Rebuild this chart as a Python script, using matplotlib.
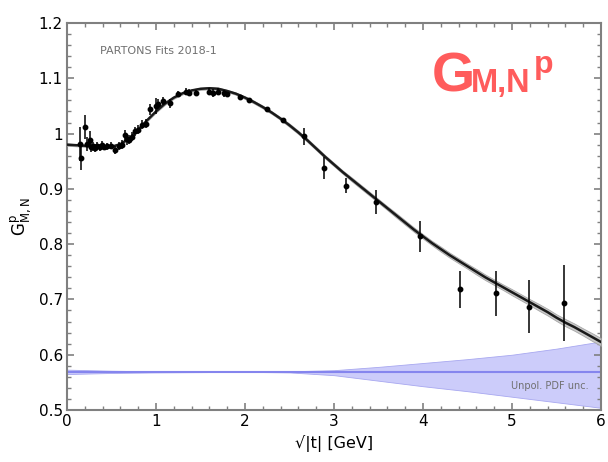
import numpy as np
import matplotlib
matplotlib.use("Agg")
import matplotlib.pyplot as plt
from matplotlib.ticker import MultipleLocator

# ---- data ----
pt_x = [0.15, 0.16, 0.20, 0.23, 0.26, 0.27, 0.29, 0.31, 0.34, 0.37, 0.39, 0.42, 0.45, 0.49,
        0.54, 0.58, 0.62, 0.65, 0.67, 0.70, 0.73, 0.76, 0.80, 0.84, 0.89, 0.93, 1.00, 1.02,
        1.08, 1.16, 1.25, 1.34, 1.37, 1.45, 1.59, 1.64, 1.70, 1.76, 1.80, 1.94, 2.04, 2.25,
        2.43, 2.66, 2.89, 3.14, 3.47, 3.97, 4.42, 4.82, 5.19, 5.58]
pt_y = [0.981, 0.956, 1.012, 0.981, 0.989, 0.976, 0.977, 0.974, 0.978, 0.975, 0.980, 0.976,
        0.977, 0.978, 0.970, 0.977, 0.980, 0.997, 0.990, 0.989, 0.994, 1.004, 1.007, 1.016,
        1.018, 1.044, 1.050, 1.054, 1.059, 1.055, 1.072, 1.076, 1.074, 1.073, 1.076, 1.074,
        1.076, 1.073, 1.071, 1.066, 1.060, 1.044, 1.025, 0.995, 0.938, 0.906, 0.876, 0.814,
        0.718, 0.711, 0.687, 0.693]
pt_err = [0.030, 0.022, 0.022, 0.012, 0.015, 0.010, 0.008, 0.008, 0.007, 0.007, 0.006, 0.006,
          0.006, 0.006, 0.007, 0.007, 0.008, 0.010, 0.010, 0.008, 0.008, 0.008, 0.008, 0.008,
          0.008, 0.010, 0.014, 0.008, 0.007, 0.008, 0.005, 0.006, 0.006, 0.005, 0.006, 0.007,
          0.006, 0.006, 0.005, 0.004, 0.004, 0.004, 0.004, 0.015, 0.020, 0.013, 0.022, 0.028,
          0.034, 0.041, 0.048, 0.069]

fit_x = [round(0.1 * i, 1) for i in range(61)]
fit_y = [0.980, 0.979, 0.978, 0.976, 0.975, 0.976, 0.981, 0.991, 1.007, 1.024,
         1.040, 1.054, 1.065, 1.073, 1.078, 1.081, 1.082, 1.081, 1.077, 1.072,
         1.065, 1.057, 1.048, 1.038, 1.027, 1.015, 1.002, 0.988, 0.973, 0.958,
         0.944, 0.930, 0.917, 0.904, 0.891, 0.878, 0.865, 0.852, 0.839, 0.826,
         0.814, 0.802, 0.791, 0.780, 0.770, 0.760, 0.750, 0.740, 0.731, 0.722,
         0.713, 0.704, 0.695, 0.686, 0.677, 0.667, 0.658, 0.650, 0.641, 0.632,
         0.623]
fit_err = [0.002, 0.002, 0.002, 0.002, 0.002, 0.002, 0.002, 0.002, 0.002, 0.002,
           0.002, 0.002, 0.002, 0.002, 0.002, 0.002, 0.002, 0.002, 0.002, 0.002,
           0.0025, 0.0025, 0.0025, 0.0025, 0.0025, 0.003, 0.003, 0.003, 0.003, 0.003,
           0.003, 0.003, 0.0035, 0.0035, 0.0035, 0.0035, 0.0035, 0.004, 0.004, 0.004,
           0.004, 0.004, 0.0045, 0.0045, 0.0045, 0.0045, 0.005, 0.005, 0.005, 0.005,
           0.0055, 0.0055, 0.0055, 0.006, 0.006, 0.006, 0.0065, 0.0065, 0.0065, 0.007,
           0.007]

pdf_x = [0.0, 0.5, 1.0, 1.5, 2.0, 2.5, 3.0, 3.5, 4.0, 4.5, 5.0, 5.5, 6.0]
pdf_c = [0.569] * 13
pdf_up = [0.573, 0.571, 0.570, 0.5695, 0.569, 0.5700, 0.572, 0.578, 0.585, 0.592, 0.600, 0.611, 0.624]
pdf_lo = [0.565, 0.567, 0.568, 0.5685, 0.569, 0.5680, 0.563, 0.553, 0.543, 0.534, 0.524, 0.514, 0.504]

x_ticks = [0, 1, 2, 3, 4, 5, 6]
x_labels = ['0', '1', '2', '3', '4', '5', '6']
y_ticks = [0.5, 0.6, 0.7, 0.8, 0.9, 1.0, 1.1, 1.2]
y_labels = ['0.5', '0.6', '0.7', '0.8', '0.9', '1', '1.1', '1.2']

# ---- figure ----
fig = plt.figure(figsize=(6.08, 4.62), dpi=100)
ax = fig.add_axes([67 / 608, 1 - 410 / 462, (601 - 67) / 608, (410 - 23) / 462])

fx = np.array(fit_x); fy = np.array(fit_y); fe = np.array(fit_err)
ax.fill_between(pdf_x, pdf_lo, pdf_up, color='#ccccfa', edgecolor='#a8a8f0', lw=0.6, zorder=1)
ax.plot(pdf_x, pdf_c, color='#8585ee', lw=1.5, zorder=2)

ax.fill_between(fx, fy - fe, fy + fe, color='#c4c4c4', edgecolor='#a0a0a0', lw=0.6, alpha=0.9, zorder=3)
ax.plot(fx, fy, color='#1a1a1a', lw=1.8, zorder=4)

ax.errorbar(pt_x, pt_y, yerr=pt_err, fmt='o', color='black', ms=3.2, elinewidth=1.1,
            capsize=0, zorder=5)

ax.set_xlim(0, 6)
ax.set_ylim(0.5, 1.2)
ax.set_xticks(x_ticks)
ax.set_xticklabels(x_labels)
ax.set_yticks(y_ticks)
ax.set_yticklabels(y_labels)
ax.xaxis.set_minor_locator(MultipleLocator(0.2))
ax.yaxis.set_minor_locator(MultipleLocator(0.02))

for s in ax.spines.values():
    s.set_color('#808080')
    s.set_linewidth(1.5)
ax.tick_params(which='both', direction='in', top=True, right=True, color='#808080',
               labelsize=11, labelcolor='black')
ax.tick_params(which='major', length=5, width=1.2, pad=3)
ax.tick_params(which='minor', length=3, width=1.0)

ax.set_xlabel('√|t| [GeV]', fontsize=11.5, labelpad=4)
ax.set_ylabel(r'$\mathrm{G^{p}_{M,N}}$', fontsize=12, labelpad=3)

ax.text(0.37, 1.15, 'PARTONS Fits 2018-1', color='#707070', fontsize=8, va='center', ha='left')
ax.text(5.86, 0.543, 'Unpol. PDF unc.', color='#707070', fontsize=7, va='center', ha='right')

red = '#ff5c5c'
fig.text(432 / 608, 1 - 92 / 462, 'G', color=red, fontsize=40, fontweight='bold',
         family='Liberation Sans', va='baseline', ha='left')
fig.text(471 / 608, 1 - 92 / 462, 'M,N', color=red, fontsize=23.5, fontweight='bold',
         family='Liberation Sans', va='baseline', ha='left')
fig.text(534 / 608, 1 - 73 / 462, 'p', color=red, fontsize=23, fontweight='bold',
         family='Liberation Sans', va='baseline', ha='left')

fig.savefig('out.png', dpi=100)
